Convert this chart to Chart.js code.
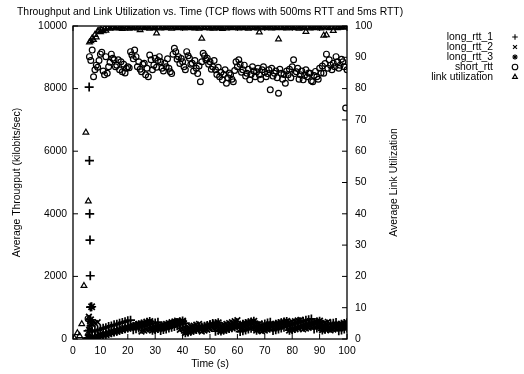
<!DOCTYPE html>
<html><head><meta charset="utf-8">
<script src="https://cdn.jsdelivr.net/npm/chart.js@4/dist/chart.umd.min.js"></script>
<style>html,body{margin:0;padding:0;background:#fff}#wrap{width:524px;height:374px;position:relative}</style>
</head><body><div id="wrap"><canvas id="c" width="524" height="374"></canvas></div>
<script>
// ---- Data ----
const seriesNames = ["long_rtt_1", "long_rtt_2", "long_rtt_3", "short_rtt", "link utilization"];
const xTicks = [0,10,20,30,40,50,60,70,80,90,100];

// early slow-start samples (time s, kbps)
const long1EarlyT = [5.0, 5.5, 5.9, 6.0, 6.1, 6.2, 6.3, 6.4, 6.6];
const long1EarlyV = [30, 260, 8050, 5700, 4000, 3160, 2020, 1020, 420];
const long2EarlyT = [5.5, 5.8, 6.2, 6.6];
const long2EarlyV = [80, 710, 560, 520];
const long3EarlyT = [5.5, 6.0, 6.4, 6.8];
const long3EarlyV = [40, 280, 610, 1030];

// long flows sampled every 1 s from t = 7 to t = 100
const longStart = 7, longStep = 1;
const long1 = [230,262,281,312,345,361,398,417,452,470,503,528,549,583,602,
  298,331,352,384,405,436,458,489,511,538,
  268,301,322,349,377,402,425,458,480,507,
  252,275,309,328,356,384,407,433,462,498,
  248,279,301,333,358,384,412,440,468,
  236,262,289,318,341,372,396,423,451,476,508,538,
  268,298,321,352,379,405,433,462,486,514,542,569,596,618,641,
  321,348,372,402,428,455,479,506,529,
  266,291,322,349];
const long2 = [482,508,537,
  112,138,161,190,213,242,268,291,318,345,372,398,420,451,478,
  238,266,293,318,347,372,401,428,452,481,509,536,561,588,
  296,322,347,378,403,428,456,482,
  241,268,296,322,349,376,403,427,458,482,508,536,567,598,
  301,325,352,381,408,434,462,489,
  244,272,298,326,351,379,405,433,461,488,512,542,566,591,612,
  306,333,358,385,412,441,466,492,521,548,
  274,302,329,355,383,411,438];
const long3 = [62,31,88,118,
  122,148,173,198,226,251,277,302,327,351,378,402,428,456,479,505,532,561,
  281,306,334,361,386,413,441,467,492,518,547,572,
  198,223,251,278,302,329,354,381,408,433,462,489,518,
  259,284,311,337,362,389,415,441,468,494,521,543,566,
  282,309,333,362,389,414,442,468,493,519,542,563,
  281,306,332,359,386,411,439,463,491,517,543,571,
  286,311,338,362,391,417,442,468,492,521];

// short flow sampled every 0.5 s from t = 5.5
const shortStart = 5.5, shortStep = 0.5;
const shortRtt = [650,9020,8900,9230,8380,8600,8750,8680,8900,9100,
  9160,8560,8440,9020,8490,8700,8840,9100,8970,8920,
  8700,8750,8920,8600,8860,8540,8780,8500,8650,8700,
  8670,9180,9070,8950,9230,9020,8700,8860,8620,8540,
  8780,8810,8440,8650,8380,9070,8920,8600,8750,8970,
  8680,8900,9020,8860,8650,8560,8810,8700,8950,8650,
  8540,8480,9100,9290,9180,8940,9020,8800,8960,8860,
  8700,8600,9180,9050,8970,8780,8810,8560,8900,8650,
  8480,8720,8220,8860,9130,9050,8920,8970,8780,8860,
  8620,8700,8900,8600,8450,8680,8380,8520,8280,8450,
  8600,8170,8350,8500,8440,8300,8220,8580,8860,8700,
  8920,8780,8520,8600,8750,8400,8490,8620,8280,8450,
  8700,8560,8380,8540,8650,8440,8300,8600,8700,8520,
  8380,8480,8600,7960,8650,8400,8490,8560,8350,7850,
  8620,8490,8300,8450,8170,8560,8440,8620,8350,8700,
  8920,8480,8540,8650,8300,8440,8560,8280,8420,8600,
  8380,8500,8490,8250,8220,8420,8550,8380,8300,8650,
  8500,8720,8490,8800,9100,8650,8920,8750,8600,8810,
  8700,9020,8860,8650,8750,8940,8860,8700,7380,8600];

// link utilization (%): early samples, then every 0.5 s from t = 6
const utilEarlyT = [0.5, 1.6, 2.4, 3.2, 4.0, 4.7, 5.6];
const utilEarlyV = [0.2, 1.9, 1.0, 4.8, 17, 66, 44];
const utilStart = 6, utilStep = 0.5;
const util = [94.8,95.2,96.1,95.6,97.2,96.4,98.3,98.6,
  98.1,98.7,98.4,99.1,98.6,99.4,99.6,99.2,99.7,99.5,
  99.8,99.3,99.6,99.9,99.4,99.7,99.1,99.6,99.8,99.5,
  99.7,99.2,99.6,99.9,99.4,99.8,99.5,99.3,99.7,98.7,
  99.6,99.8,99.4,99.7,99.9,99.5,99.2,99.6,99.8,99.4,
  99.6,97.7,99.5,99.8,99.3,99.7,99.9,99.4,99.6,99.8,
  99.5,99.7,99.2,99.8,99.6,99.9,99.4,99.7,99.5,99.8,
  99.6,99.3,99.8,99.5,99.7,99.9,99.4,99.6,99.8,99.3,
  99.7,99.5,99.2,99.8,96.0,99.6,99.4,99.8,99.5,99.7,
  99.3,99.8,99.6,99.2,99.7,99.5,99.9,99.4,99.6,99.1,
  99.5,99.8,99.3,99.7,99.6,99.9,99.4,99.8,99.5,99.7,
  99.6,99.3,99.8,99.5,99.9,99.4,99.7,99.6,99.2,99.8,
  99.5,99.7,99.4,99.8,99.6,99.3,98.0,99.7,99.5,99.8,
  99.4,99.6,99.9,99.5,99.7,99.3,99.8,99.6,99.4,99.7,
  95.8,99.5,99.8,99.4,99.6,99.9,99.3,99.7,99.5,99.8,
  99.6,99.4,99.7,99.9,99.5,99.2,99.8,99.6,99.4,99.7,
  98.2,99.5,99.8,99.3,99.6,99.9,99.4,99.7,99.5,99.8,
  99.6,99.3,99.7,97.0,99.5,97.1,99.8,99.4,99.6,99.7,
  98.5,99.6,99.8,99.4,99.7,99.5,99.9,99.6,99.8,99.7,
  99.6];

// ---- build point lists ----
function pts(ts, vs){ return vs.map((v,i)=>({x:ts[i], y:v})); }
function gridPts(start, step, vs){ return vs.map((v,i)=>({x:start+i*step, y:v})); }

const FONT = "'Liberation Sans', Arial, Helvetica, sans-serif";
const FS = 10.4;
const styles = [
  {pointStyle:'cross', radius:4.5, bw:1.7},
  {pointStyle:'crossRot', radius:4.0, bw:1.7},
  {pointStyle:'star', radius:4.5, bw:1.7},
  {pointStyle:'circle', radius:2.9, bw:1.2},
  {pointStyle:'triangle', radius:3.3, bw:1.2}
];
function ds(i, data, axis){
  return {label:seriesNames[i], data, yAxisID:axis, showLine:false,
    pointStyle:styles[i].pointStyle, pointRadius:styles[i].radius, pointHoverRadius:styles[i].radius,
    borderColor:'#000', backgroundColor:'rgba(0,0,0,0)', pointBorderWidth:styles[i].bw};
}

const frame = {
  id:'frame',
  afterDraw(chart){
    const {ctx, chartArea:a, scales} = chart;
    ctx.save();
    ctx.strokeStyle = '#000'; ctx.lineWidth = 1.3;
    ctx.strokeRect(a.left, a.top, a.right-a.left, a.bottom-a.top);
    ctx.lineWidth = 1;
    const L = 5;
    ctx.beginPath();
    xTicks.forEach(v=>{ const px = scales.x.getPixelForValue(v);
      ctx.moveTo(px, a.bottom); ctx.lineTo(px, a.bottom-L);
      ctx.moveTo(px, a.top); ctx.lineTo(px, a.top+L); });
    scales.y.ticks.forEach(t=>{ const py = scales.y.getPixelForValue(t.value);
      ctx.moveTo(a.left, py); ctx.lineTo(a.left+L, py); });
    scales.y2.ticks.forEach(t=>{ const py = scales.y2.getPixelForValue(t.value);
      ctx.moveTo(a.right, py); ctx.lineTo(a.right-L, py); });
    ctx.stroke();
    // texts
    ctx.fillStyle = '#000';
    ctx.font = FS + 'px ' + FONT;
    ctx.textBaseline = 'middle';
    ctx.textAlign = 'left';
    ctx.fillText('Throughput and Link Utilization vs. Time (TCP flows with 500ms RTT and 5ms RTT)', 17, 12);
    ctx.textAlign = 'center';
    ctx.fillText('Time (s)', (a.left+a.right)/2, 364);
    ctx.save(); ctx.translate(17, (a.top+a.bottom)/2); ctx.rotate(-Math.PI/2);
    ctx.fillText('Average Througput (kilobits/sec)', 0, 0); ctx.restore();
    ctx.save(); ctx.translate(394, (a.top+a.bottom)/2); ctx.rotate(-Math.PI/2);
    ctx.fillText('Average Link Utilization', 0, 0); ctx.restore();
    // legend
    seriesNames.forEach((n,i)=>{
      const y = 37 + i*10;
      ctx.fillStyle = '#000';
      ctx.textAlign = 'right';
      ctx.fillText(n, 493, y);
      ctx.fillStyle = 'rgba(0,0,0,0)';
      ctx.strokeStyle = '#000';
      ctx.lineWidth = 1.1;
      Chart.helpers.drawPoint(ctx, {pointStyle:styles[i].pointStyle, radius:2.8, borderWidth:1.1, rotation:0}, 515, y);
    });
    ctx.restore();
  }
};

Chart.defaults.font.family = FONT;
Chart.defaults.font.size = FS;
Chart.defaults.color = '#000';

new Chart(document.getElementById('c'), {
  type:'scatter',
  data:{datasets:[
    ds(0, pts(long1EarlyT,long1EarlyV).concat(gridPts(longStart,longStep,long1)), 'y'),
    ds(1, pts(long2EarlyT,long2EarlyV).concat(gridPts(longStart,longStep,long2)), 'y'),
    ds(2, pts(long3EarlyT,long3EarlyV).concat(gridPts(longStart,longStep,long3)), 'y'),
    ds(3, gridPts(shortStart,shortStep,shortRtt), 'y'),
    ds(4, pts(utilEarlyT,utilEarlyV).concat(gridPts(utilStart,utilStep,util)), 'y2')
  ]},
  options:{
    responsive:false, animation:false, devicePixelRatio:1,
    layout:{padding:{top:26, left:0, right:0, bottom:0}},
    plugins:{legend:{display:false}, title:{display:false}, tooltip:{enabled:false}},
    scales:{
      x:{type:'linear', min:0, max:100, afterBuildTicks(s){ s.ticks = xTicks.map(v=>({value:v})); },
         grid:{display:false, drawTicks:false}, border:{display:false},
         ticks:{padding:6, maxRotation:0, autoSkip:false, callback:v=>String(v)}, afterFit(s){ s.height = 35; }},
      y:{type:'linear', position:'left', min:0, max:10000, ticks:{stepSize:2000, padding:6, callback:v=>String(v)},
         grid:{display:false, drawTicks:false}, border:{display:false}, afterFit(s){ s.width = 73; }},
      y2:{type:'linear', position:'right', min:0, max:100, ticks:{stepSize:10, padding:8, callback:v=>String(v)},
         grid:{display:false, drawTicks:false}, border:{display:false}, afterFit(s){ s.width = 177; }}
    }
  },
  plugins:[frame]
});
</script></body></html>
